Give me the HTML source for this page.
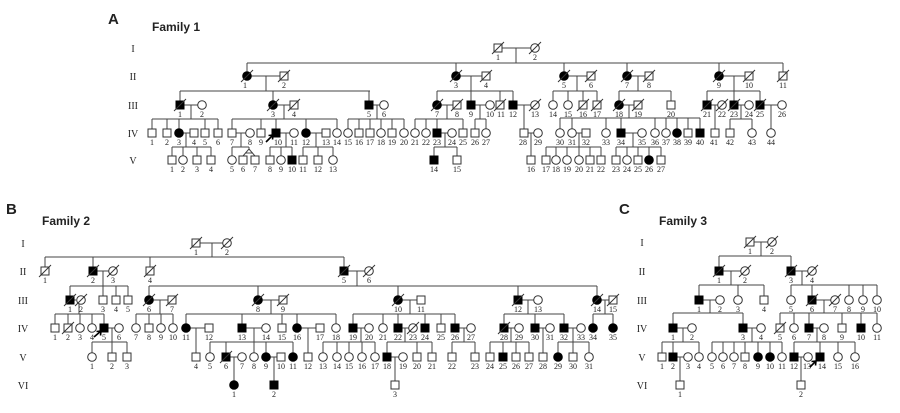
<!DOCTYPE html>
<html><head><meta charset="utf-8"><style>
html,body{margin:0;padding:0;background:#fff;}
svg{display:block;}
.l{stroke:#444;stroke-width:1;fill:none;}
text{font-family:"Liberation Serif",serif;font-size:8px;fill:#222;text-anchor:middle;}
.r{font-size:10px;}
.h{font-family:"Liberation Sans",sans-serif;font-weight:bold;text-anchor:start;}
</style></head><body>
<svg width="900" height="413" viewBox="0 0 900 413" xmlns="http://www.w3.org/2000/svg">
<defs>
<rect id="S" x="-4" y="-4" width="8" height="8" fill="#fff" stroke="#333" stroke-width="1"/>
<rect id="SF" x="-4" y="-4" width="8" height="8" fill="#000" stroke="#000" stroke-width="1"/>
<circle id="C" r="4.3" fill="#fff" stroke="#333" stroke-width="1"/>
<circle id="CF" r="4.3" fill="#000" stroke="#000" stroke-width="1"/>
<line id="D" x1="-6" y1="6" x2="6" y2="-6" stroke="#333" stroke-width="1"/>
</defs>
<rect width="900" height="413" fill="#fff"/>

<!-- ============ FAMILY 1 ============ -->
<text class="h" x="108" y="24" style="font-size:15px">A</text>
<text class="h" x="152" y="31" style="font-size:12px">Family 1</text>
<text class="r" x="133" y="52">I</text><text class="r" x="133" y="80">II</text><text class="r" x="133" y="109">III</text><text class="r" x="133" y="137">IV</text><text class="r" x="133" y="164">V</text>
<path class="l" d="M502 48H531M516 48V63M247 63H783M247 63V72M456 63V72M564 63V72M627 63V72M719 63V72M783 63V72
M251 76H280M266 76V91M180 91H370M180 91V101M273 91V101M369 91V101
M460 76H482M471 76V91M437 91H513M437 91V101M471 91V101M500 91V101M513 91V101
M568 76H587M577 76V91M553 91H597M553 91V101M568 91V101M583 91V101M597 91V101
M631 76H645M638 76V91M619 91H671M619 91V101M671 91V101
M723 76H745M734 76V91M707 91H760M707 91V101M734 91V101M760 91V101
M184 105H198M191 105V119M152 119H218M152 119V129M167 119V129M179 119V129M205 119V129M218 119V129
M277 105H290M284 105V119M232 119H337M232 119V129M261 119V129M276 119V129M306 119V129M337 119V129
M373 105H380M377 105V119M348 119H404M348 119V129M359 119V129M370 119V129M381 119V129M392 119V129M404 119V129
M441 105H453M447 105V119M415 119H463M415 119V129M426 119V129M437 119V129M463 119V129
M475 105H486M480 105V119M475 119H486M475 119V129M486 119V129
M517 105H531M524 105V129
M623 105H634M629 105V118M560 118H700M560 118V129M572 118V129M606 118V129M621 118V129M655 118V129M666 118V129M677 118V129M688 118V129M700 118V129
M711 105H718M715 105V129
M738 105H745M741 105V119M730 119H752M730 119V129M752 119V129
M764 105H778M771 105V129
M183 133H190M186 133V147M172 147H211M172 147V156M183 147V156M197 147V156M211 147V156
M236 133H246M241 133V147M232 147H249M232 147V156M249 147V149L243 156M249 149L255 156M245 153H253
M280 133H290M286 133V147M270 147H292M270 147V156M281 147V156M292 147V156
M310 133H322M316 133V147M303 147H333M303 147V156M318 147V156M333 147V156
M441 133H448M445 133V147M434 147H457M434 147V156M457 147V156
M528 133H534M531 133V156
M576 133H582M579 133V147M546 147H601M546 147V156M556 147V156M567 147V156M579 147V156M590 147V156M601 147V156
M625 133H638M633 133V147M616 147H661M616 147V156M627 147V156M638 147V156M649 147V156M661 147V156"/>
<g>
<use href="#S" x="498" y="48"/><use href="#D" x="498" y="48"/><text x="498" y="60">1</text>
<use href="#C" x="535" y="48"/><use href="#D" x="535" y="48"/><text x="535" y="60">2</text>

<use href="#CF" x="247" y="76"/><use href="#D" x="247" y="76"/><text x="245" y="88">1</text>
<use href="#S" x="284" y="76"/><use href="#D" x="284" y="76"/><text x="284" y="88">2</text>
<use href="#CF" x="456" y="76"/><use href="#D" x="456" y="76"/><text x="456" y="88">3</text>
<use href="#S" x="486" y="76"/><use href="#D" x="486" y="76"/><text x="486" y="88">4</text>
<use href="#CF" x="564" y="76"/><use href="#D" x="564" y="76"/><text x="564" y="88">5</text>
<use href="#S" x="591" y="76"/><use href="#D" x="591" y="76"/><text x="591" y="88">6</text>
<use href="#CF" x="627" y="76"/><use href="#D" x="627" y="76"/><text x="627" y="88">7</text>
<use href="#S" x="649" y="76"/><use href="#D" x="649" y="76"/><text x="649" y="88">8</text>
<use href="#CF" x="719" y="76"/><use href="#D" x="719" y="76"/><text x="719" y="88">9</text>
<use href="#S" x="749" y="76"/><use href="#D" x="749" y="76"/><text x="749" y="88">10</text>
<use href="#S" x="783" y="76"/><use href="#D" x="783" y="76"/><text x="783" y="88">11</text>

<use href="#SF" x="180" y="105"/><use href="#D" x="180" y="105"/><text x="180" y="117">1</text>
<use href="#C" x="202" y="105"/><text x="202" y="117">2</text>
<use href="#CF" x="273" y="105"/><use href="#D" x="273" y="105"/><text x="273" y="117">3</text>
<use href="#S" x="294" y="105"/><use href="#D" x="294" y="105"/><text x="294" y="117">4</text>
<use href="#SF" x="369" y="105"/><text x="369" y="117">5</text>
<use href="#C" x="384" y="105"/><text x="384" y="117">6</text>
<use href="#CF" x="437" y="105"/><use href="#D" x="437" y="105"/><text x="437" y="117">7</text>
<use href="#S" x="457" y="105"/><use href="#D" x="457" y="105"/><text x="457" y="117">8</text>
<use href="#SF" x="471" y="105"/><text x="471" y="117">9</text>
<use href="#C" x="490" y="105"/><text x="490" y="117">10</text>
<use href="#S" x="500" y="105"/><use href="#D" x="500" y="105"/><text x="501" y="117">11</text>
<use href="#SF" x="513" y="105"/><text x="513" y="117">12</text>
<use href="#C" x="535" y="105"/><use href="#D" x="535" y="105"/><text x="535" y="117">13</text>
<use href="#C" x="553" y="105"/><text x="553" y="117">14</text>
<use href="#C" x="568" y="105"/><text x="568" y="117">15</text>
<use href="#S" x="583" y="105"/><use href="#D" x="583" y="105"/><text x="583" y="117">16</text>
<use href="#S" x="597" y="105"/><use href="#D" x="597" y="105"/><text x="597" y="117">17</text>
<use href="#CF" x="619" y="105"/><use href="#D" x="619" y="105"/><text x="619" y="117">18</text>
<use href="#S" x="638" y="105"/><use href="#D" x="638" y="105"/><text x="638" y="117">19</text>
<use href="#S" x="671" y="105"/><text x="671" y="117">20</text>
<use href="#SF" x="707" y="105"/><use href="#D" x="707" y="105"/><text x="707" y="117">21</text>
<use href="#C" x="722" y="105"/><use href="#D" x="722" y="105"/><text x="722" y="117">22</text>
<use href="#SF" x="734" y="105"/><use href="#D" x="734" y="105"/><text x="734" y="117">23</text>
<use href="#C" x="749" y="105"/><text x="749" y="117">24</text>
<use href="#SF" x="760" y="105"/><use href="#D" x="760" y="105"/><text x="760" y="117">25</text>
<use href="#C" x="782" y="105"/><text x="782" y="117">26</text>

<use href="#S" x="152" y="133"/><text x="152" y="145">1</text>
<use href="#S" x="167" y="133"/><text x="167" y="145">2</text>
<use href="#CF" x="179" y="133"/><text x="179" y="145">3</text>
<use href="#S" x="194" y="133"/><text x="194" y="145">4</text>
<use href="#S" x="205" y="133"/><text x="205" y="145">5</text>
<use href="#S" x="218" y="133"/><text x="218" y="145">6</text>
<use href="#S" x="232" y="133"/><text x="232" y="145">7</text>
<use href="#C" x="250" y="133"/><text x="250" y="145">8</text>
<use href="#S" x="261" y="133"/><text x="261" y="145">9</text>
<use href="#SF" x="276" y="133"/><text x="278" y="145">10</text>
<use href="#C" x="294" y="133"/><text x="294" y="145">11</text>
<use href="#CF" x="306" y="133"/><text x="306" y="145">12</text>
<use href="#S" x="326" y="133"/><text x="326" y="145">13</text>
<use href="#C" x="337" y="133"/><text x="337" y="145">14</text>
<use href="#C" x="348" y="133"/><text x="348" y="145">15</text>
<use href="#S" x="359" y="133"/><text x="359" y="145">16</text>
<use href="#S" x="370" y="133"/><text x="370" y="145">17</text>
<use href="#C" x="381" y="133"/><text x="381" y="145">18</text>
<use href="#S" x="392" y="133"/><text x="392" y="145">19</text>
<use href="#C" x="404" y="133"/><text x="404" y="145">20</text>
<use href="#C" x="415" y="133"/><text x="415" y="145">21</text>
<use href="#C" x="426" y="133"/><text x="426" y="145">22</text>
<use href="#SF" x="437" y="133"/><text x="437" y="145">23</text>
<use href="#C" x="452" y="133"/><text x="452" y="145">24</text>
<use href="#S" x="463" y="133"/><text x="463" y="145">25</text>
<use href="#S" x="475" y="133"/><text x="475" y="145">26</text>
<use href="#C" x="486" y="133"/><text x="486" y="145">27</text>
<use href="#S" x="524" y="133"/><text x="523" y="145">28</text>
<use href="#C" x="538" y="133"/><text x="538" y="145">29</text>
<use href="#C" x="560" y="133"/><text x="560" y="145">30</text>
<use href="#C" x="572" y="133"/><text x="572" y="145">31</text>
<use href="#S" x="586" y="133"/><text x="586" y="145">32</text>
<use href="#C" x="606" y="133"/><text x="606" y="145">33</text>
<use href="#SF" x="621" y="133"/><text x="621" y="145">34</text>
<use href="#C" x="642" y="133"/><text x="642" y="145">35</text>
<use href="#C" x="655" y="133"/><text x="655" y="145">36</text>
<use href="#C" x="666" y="133"/><text x="666" y="145">37</text>
<use href="#CF" x="677" y="133"/><text x="677" y="145">38</text>
<use href="#S" x="688" y="133"/><text x="688" y="145">39</text>
<use href="#SF" x="700" y="133"/><text x="700" y="145">40</text>
<use href="#S" x="715" y="133"/><text x="714" y="145">41</text>
<use href="#S" x="730" y="133"/><text x="730" y="145">42</text>
<use href="#C" x="752" y="133"/><text x="752" y="145">43</text>
<use href="#C" x="771" y="133"/><text x="771" y="145">44</text>
<path d="M266 142L273 135M273 135l-4.5 0.5M273 135l-0.5 4.5" stroke="#000" stroke-width="1.6" fill="none"/>

<use href="#S" x="172" y="160"/><text x="172" y="172">1</text>
<use href="#C" x="183" y="160"/><text x="183" y="172">2</text>
<use href="#S" x="197" y="160"/><text x="197" y="172">3</text>
<use href="#S" x="211" y="160"/><text x="211" y="172">4</text>
<use href="#C" x="232" y="160"/><text x="232" y="172">5</text>
<use href="#S" x="243" y="160"/><text x="243" y="172">6</text>
<use href="#S" x="255" y="160"/><text x="255" y="172">7</text>
<use href="#S" x="270" y="160"/><text x="270" y="172">8</text>
<use href="#C" x="281" y="160"/><text x="281" y="172">9</text>
<use href="#SF" x="292" y="160"/><text x="292" y="172">10</text>
<use href="#S" x="303" y="160"/><text x="303" y="172">11</text>
<use href="#S" x="318" y="160"/><text x="318" y="172">12</text>
<use href="#C" x="333" y="160"/><text x="333" y="172">13</text>
<use href="#SF" x="434" y="160"/><text x="434" y="172">14</text>
<use href="#S" x="457" y="160"/><text x="457" y="172">15</text>
<use href="#S" x="531" y="160"/><text x="531" y="172">16</text>
<use href="#S" x="546" y="160"/><text x="546" y="172">17</text>
<use href="#C" x="556" y="160"/><text x="556" y="172">18</text>
<use href="#C" x="567" y="160"/><text x="567" y="172">19</text>
<use href="#C" x="579" y="160"/><text x="579" y="172">20</text>
<use href="#S" x="590" y="160"/><text x="590" y="172">21</text>
<use href="#S" x="601" y="160"/><text x="601" y="172">22</text>
<use href="#S" x="616" y="160"/><text x="616" y="172">23</text>
<use href="#C" x="627" y="160"/><text x="627" y="172">24</text>
<use href="#S" x="638" y="160"/><text x="638" y="172">25</text>
<use href="#CF" x="649" y="160"/><text x="649" y="172">26</text>
<use href="#S" x="661" y="160"/><text x="661" y="172">27</text>
</g>

<!-- ============ FAMILY 2 ============ -->
<text class="h" x="6" y="214" style="font-size:15px">B</text>
<text class="h" x="42" y="225" style="font-size:12px">Family 2</text>
<text class="r" x="23" y="247">I</text><text class="r" x="23" y="275">II</text><text class="r" x="23" y="304">III</text><text class="r" x="23" y="332">IV</text><text class="r" x="23" y="361">V</text><text class="r" x="23" y="389">VI</text>
<path class="l" d="M200 243H223M212 243V257M45 257H344M45 257V267M93 257V267M150 257V267M344 257V267
M97 271H109M103 271V286M70 286H128M70 286V296M103 286V296M116 286V296M128 286V296
M348 271H365M357 271V286M149 286H597M149 286V296M258 286V296M398 286V296M518 286V296M597 286V296
M74 300H76M79 300V314M55 314H104M55 314V324M68 314V324M80 314V324M92 314V324M104 314V324
M153 300H168M160 300V314M136 314H173M136 314V324M149 314V324M161 314V324M173 314V324
M262 300H279M271 300V314M186 314H336M186 314V324M242 314V324M282 314V324M297 314V324M336 314V324
M402 300H417M410 300V314M353 314H455M353 314V324M383 314V324M398 314V324M425 314V324M441 314V324M455 314V324
M522 300H534M528 300V314M504 314H564M504 314V324M535 314V324M564 314V324
M601 300H609M605 300V314M593 314H613M593 314V324M613 314V324
M108 328H115M112 328V342M92 342H127M92 342V353M112 342V353M127 342V353
M190 328H205M196 328V353
M246 328H262M254 328V342M210 342H293M210 342V353M226 342V353M254 342V353M266 342V353M293 342V353
M301 328H316M308 328V353
M357 328H365M361 328V342M323 342H375M323 342V353M337 342V353M349 342V353M362 342V353M375 342V353
M402 328H409M405 328V342M387 342H432M387 342V353M417 342V353M432 342V353
M459 328H467M464 328V342M452 342H475M452 342V353M475 342V353
M508 328H515M511 328V342M490 342H529M490 342V353M503 342V353M516 342V353M529 342V353
M539 328H546M543 328V353
M568 328H577M573 328V342M558 342H589M558 342V353M573 342V353M589 342V353
M230 357H238M234 357V381M270 357H277M274 357V381M391 357H399M395 357V381"/>
<g>
<use href="#S" x="196" y="243"/><use href="#D" x="196" y="243"/><text x="196" y="255">1</text>
<use href="#C" x="227" y="243"/><use href="#D" x="227" y="243"/><text x="227" y="255">2</text>

<use href="#S" x="45" y="271"/><use href="#D" x="45" y="271"/><text x="45" y="283">1</text>
<use href="#SF" x="93" y="271"/><use href="#D" x="93" y="271"/><text x="93" y="283">2</text>
<use href="#C" x="113" y="271"/><use href="#D" x="113" y="271"/><text x="113" y="283">3</text>
<use href="#S" x="150" y="271"/><use href="#D" x="150" y="271"/><text x="150" y="283">4</text>
<use href="#SF" x="344" y="271"/><use href="#D" x="344" y="271"/><text x="344" y="283">5</text>
<use href="#C" x="369" y="271"/><use href="#D" x="369" y="271"/><text x="369" y="283">6</text>

<use href="#SF" x="70" y="300"/><use href="#D" x="70" y="300"/><text x="70" y="312">1</text>
<use href="#C" x="81" y="300"/><use href="#D" x="81" y="300"/><text x="81" y="312">2</text>
<use href="#S" x="103" y="300"/><text x="103" y="312">3</text>
<use href="#S" x="116" y="300"/><text x="116" y="312">4</text>
<use href="#S" x="128" y="300"/><text x="128" y="312">5</text>
<use href="#CF" x="149" y="300"/><use href="#D" x="149" y="300"/><text x="149" y="312">6</text>
<use href="#S" x="172" y="300"/><use href="#D" x="172" y="300"/><text x="172" y="312">7</text>
<use href="#CF" x="258" y="300"/><use href="#D" x="258" y="300"/><text x="258" y="312">8</text>
<use href="#S" x="283" y="300"/><use href="#D" x="283" y="300"/><text x="283" y="312">9</text>
<use href="#CF" x="398" y="300"/><use href="#D" x="398" y="300"/><text x="398" y="312">10</text>
<use href="#S" x="421" y="300"/><text x="421" y="312">11</text>
<use href="#SF" x="518" y="300"/><use href="#D" x="518" y="300"/><text x="518" y="312">12</text>
<use href="#C" x="538" y="300"/><text x="538" y="312">13</text>
<use href="#CF" x="597" y="300"/><use href="#D" x="597" y="300"/><text x="597" y="312">14</text>
<use href="#S" x="613" y="300"/><use href="#D" x="613" y="300"/><text x="613" y="312">15</text>

<use href="#S" x="55" y="328"/><text x="55" y="340">1</text>
<use href="#S" x="68" y="328"/><use href="#D" x="68" y="328"/><text x="68" y="340">2</text>
<use href="#C" x="80" y="328"/><text x="80" y="340">3</text>
<use href="#C" x="92" y="328"/><text x="92" y="340">4</text>
<use href="#SF" x="104" y="328"/><text x="104" y="340">5</text>
<use href="#C" x="119" y="328"/><text x="119" y="340">6</text>
<use href="#C" x="136" y="328"/><text x="136" y="340">7</text>
<use href="#S" x="149" y="328"/><text x="149" y="340">8</text>
<use href="#C" x="161" y="328"/><text x="161" y="340">9</text>
<use href="#C" x="173" y="328"/><text x="173" y="340">10</text>
<use href="#CF" x="186" y="328"/><text x="186" y="340">11</text>
<use href="#S" x="209" y="328"/><text x="209" y="340">12</text>
<use href="#SF" x="242" y="328"/><text x="242" y="340">13</text>
<use href="#C" x="266" y="328"/><text x="266" y="340">14</text>
<use href="#S" x="282" y="328"/><text x="282" y="340">15</text>
<use href="#CF" x="297" y="328"/><text x="297" y="340">16</text>
<use href="#S" x="320" y="328"/><text x="320" y="340">17</text>
<use href="#C" x="336" y="328"/><text x="336" y="340">18</text>
<use href="#SF" x="353" y="328"/><text x="353" y="340">19</text>
<use href="#C" x="369" y="328"/><text x="369" y="340">20</text>
<use href="#C" x="383" y="328"/><text x="383" y="340">21</text>
<use href="#SF" x="398" y="328"/><text x="398" y="340">22</text>
<use href="#C" x="413" y="328"/><use href="#D" x="413" y="328"/><text x="413" y="340">23</text>
<use href="#SF" x="425" y="328"/><text x="425" y="340">24</text>
<use href="#S" x="441" y="328"/><text x="441" y="340">25</text>
<use href="#SF" x="455" y="328"/><text x="455" y="340">26</text>
<use href="#C" x="471" y="328"/><text x="471" y="340">27</text>
<use href="#SF" x="504" y="328"/><use href="#D" x="504" y="328"/><text x="504" y="340">28</text>
<use href="#C" x="519" y="328"/><text x="519" y="340">29</text>
<use href="#SF" x="535" y="328"/><text x="535" y="340">30</text>
<use href="#C" x="550" y="328"/><text x="550" y="340">31</text>
<use href="#SF" x="564" y="328"/><text x="564" y="340">32</text>
<use href="#C" x="581" y="328"/><text x="581" y="340">33</text>
<use href="#CF" x="593" y="328"/><text x="593" y="340">34</text>
<use href="#CF" x="613" y="328"/><text x="613" y="340">35</text>
<path d="M94 337L101 331M101 331l-4.5 0.5M101 331l-0.5 4.5" stroke="#000" stroke-width="1.6" fill="none"/>

<use href="#C" x="92" y="357"/><text x="92" y="369">1</text>
<use href="#S" x="112" y="357"/><text x="112" y="369">2</text>
<use href="#S" x="127" y="357"/><text x="127" y="369">3</text>
<use href="#S" x="196" y="357"/><text x="196" y="369">4</text>
<use href="#C" x="210" y="357"/><text x="210" y="369">5</text>
<use href="#SF" x="226" y="357"/><use href="#D" x="226" y="357"/><text x="226" y="369">6</text>
<use href="#C" x="242" y="357"/><text x="242" y="369">7</text>
<use href="#C" x="254" y="357"/><text x="254" y="369">8</text>
<use href="#CF" x="266" y="357"/><text x="266" y="369">9</text>
<use href="#S" x="281" y="357"/><text x="281" y="369">10</text>
<use href="#CF" x="293" y="357"/><text x="293" y="369">11</text>
<use href="#S" x="308" y="357"/><text x="308" y="369">12</text>
<use href="#C" x="323" y="357"/><text x="323" y="369">13</text>
<use href="#C" x="337" y="357"/><text x="337" y="369">14</text>
<use href="#C" x="349" y="357"/><text x="349" y="369">15</text>
<use href="#C" x="362" y="357"/><text x="362" y="369">16</text>
<use href="#C" x="375" y="357"/><text x="375" y="369">17</text>
<use href="#SF" x="387" y="357"/><text x="387" y="369">18</text>
<use href="#C" x="403" y="357"/><text x="403" y="369">19</text>
<use href="#S" x="417" y="357"/><text x="417" y="369">20</text>
<use href="#S" x="432" y="357"/><text x="432" y="369">21</text>
<use href="#S" x="452" y="357"/><text x="452" y="369">22</text>
<use href="#S" x="475" y="357"/><text x="475" y="369">23</text>
<use href="#S" x="490" y="357"/><text x="490" y="369">24</text>
<use href="#SF" x="503" y="357"/><text x="503" y="369">25</text>
<use href="#S" x="516" y="357"/><text x="516" y="369">26</text>
<use href="#S" x="529" y="357"/><text x="529" y="369">27</text>
<use href="#S" x="543" y="357"/><text x="543" y="369">28</text>
<use href="#CF" x="558" y="357"/><text x="558" y="369">29</text>
<use href="#S" x="573" y="357"/><text x="573" y="369">30</text>
<use href="#C" x="589" y="357"/><text x="589" y="369">31</text>

<use href="#CF" x="234" y="385"/><text x="234" y="397">1</text>
<use href="#SF" x="274" y="385"/><text x="274" y="397">2</text>
<use href="#S" x="395" y="385"/><text x="395" y="397">3</text>
</g>

<!-- ============ FAMILY 3 ============ -->
<text class="h" x="619" y="214" style="font-size:15px">C</text>
<text class="h" x="659" y="225" style="font-size:12px">Family 3</text>
<text class="r" x="642" y="246">I</text><text class="r" x="642" y="275">II</text><text class="r" x="642" y="304">III</text><text class="r" x="642" y="332">IV</text><text class="r" x="642" y="361">V</text><text class="r" x="642" y="389">VI</text>
<path class="l" d="M754 242H768M761 242V256M719 256H791M719 256V267M791 256V267
M723 271H741M731 271V285M699 285H764M699 285V296M738 285V296M764 285V296
M795 271H808M802 271V285M791 285H877M791 285V296M812 285V296M849 285V296M863 285V296M877 285V296
M703 300H716M710 300V313M673 313H743M673 313V324M743 313V324
M816 300H831M824 300V313M780 313H877M780 313V324M794 313V324M809 313V324M842 313V324M861 313V324M877 313V324
M677 328H688M683 328V342M662 342H699M662 342V353M673 342V353M699 342V353
M747 328H757M752 328V342M712 342H782M712 342V353M723 342V353M734 342V353M745 342V353M758 342V353M770 342V353M782 342V353
M813 328H820M817 328V342M794 342H855M794 342V353M820 342V353M838 342V353M855 342V353
M677 357H684M680 357V381M798 357H804M801 357V381"/>
<g>
<use href="#S" x="750" y="242"/><use href="#D" x="750" y="242"/><text x="750" y="254">1</text>
<use href="#C" x="772" y="242"/><use href="#D" x="772" y="242"/><text x="772" y="254">2</text>
<use href="#SF" x="719" y="271"/><use href="#D" x="719" y="271"/><text x="719" y="283">1</text>
<use href="#C" x="745" y="271"/><use href="#D" x="745" y="271"/><text x="745" y="283">2</text>
<use href="#SF" x="791" y="271"/><use href="#D" x="791" y="271"/><text x="791" y="283">3</text>
<use href="#C" x="812" y="271"/><use href="#D" x="812" y="271"/><text x="812" y="283">4</text>

<use href="#SF" x="699" y="300"/><text x="699" y="312">1</text>
<use href="#C" x="720" y="300"/><text x="720" y="312">2</text>
<use href="#C" x="738" y="300"/><text x="738" y="312">3</text>
<use href="#S" x="764" y="300"/><text x="764" y="312">4</text>
<use href="#C" x="791" y="300"/><text x="791" y="312">5</text>
<use href="#SF" x="812" y="300"/><use href="#D" x="812" y="300"/><text x="812" y="312">6</text>
<use href="#C" x="835" y="300"/><use href="#D" x="835" y="300"/><text x="835" y="312">7</text>
<use href="#C" x="849" y="300"/><text x="849" y="312">8</text>
<use href="#C" x="863" y="300"/><text x="863" y="312">9</text>
<use href="#C" x="877" y="300"/><text x="877" y="312">10</text>

<use href="#SF" x="673" y="328"/><text x="673" y="340">1</text>
<use href="#C" x="692" y="328"/><text x="692" y="340">2</text>
<use href="#SF" x="743" y="328"/><text x="743" y="340">3</text>
<use href="#C" x="761" y="328"/><text x="761" y="340">4</text>
<use href="#S" x="780" y="328"/><use href="#D" x="780" y="328"/><text x="780" y="340">5</text>
<use href="#C" x="794" y="328"/><text x="794" y="340">6</text>
<use href="#SF" x="809" y="328"/><text x="809" y="340">7</text>
<use href="#C" x="824" y="328"/><text x="824" y="340">8</text>
<use href="#S" x="842" y="328"/><text x="842" y="340">9</text>
<use href="#SF" x="861" y="328"/><text x="861" y="340">10</text>
<use href="#C" x="877" y="328"/><text x="877" y="340">11</text>

<use href="#S" x="662" y="357"/><text x="662" y="369">1</text>
<use href="#SF" x="673" y="357"/><text x="673" y="369">2</text>
<use href="#C" x="688" y="357"/><text x="688" y="369">3</text>
<use href="#C" x="699" y="357"/><text x="699" y="369">4</text>
<use href="#C" x="712" y="357"/><text x="712" y="369">5</text>
<use href="#C" x="723" y="357"/><text x="723" y="369">6</text>
<use href="#C" x="734" y="357"/><text x="734" y="369">7</text>
<use href="#S" x="745" y="357"/><text x="745" y="369">8</text>
<use href="#CF" x="758" y="357"/><text x="758" y="369">9</text>
<use href="#CF" x="770" y="357"/><text x="770" y="369">10</text>
<use href="#C" x="782" y="357"/><text x="782" y="369">11</text>
<use href="#SF" x="794" y="357"/><text x="794" y="369">12</text>
<use href="#C" x="808" y="357"/><text x="807" y="369">13</text>
<use href="#SF" x="820" y="357"/><text x="822" y="369">14</text>
<use href="#C" x="838" y="357"/><text x="838" y="369">15</text>
<use href="#C" x="855" y="357"/><text x="855" y="369">16</text>
<path d="M810 367L816 361M816 361l-4.5 0.5M816 361l-0.5 4.5" stroke="#000" stroke-width="1.6" fill="none"/>

<use href="#S" x="680" y="385"/><text x="680" y="397">1</text>
<use href="#S" x="801" y="385"/><text x="801" y="397">2</text>
</g>
</svg>
</body></html>
